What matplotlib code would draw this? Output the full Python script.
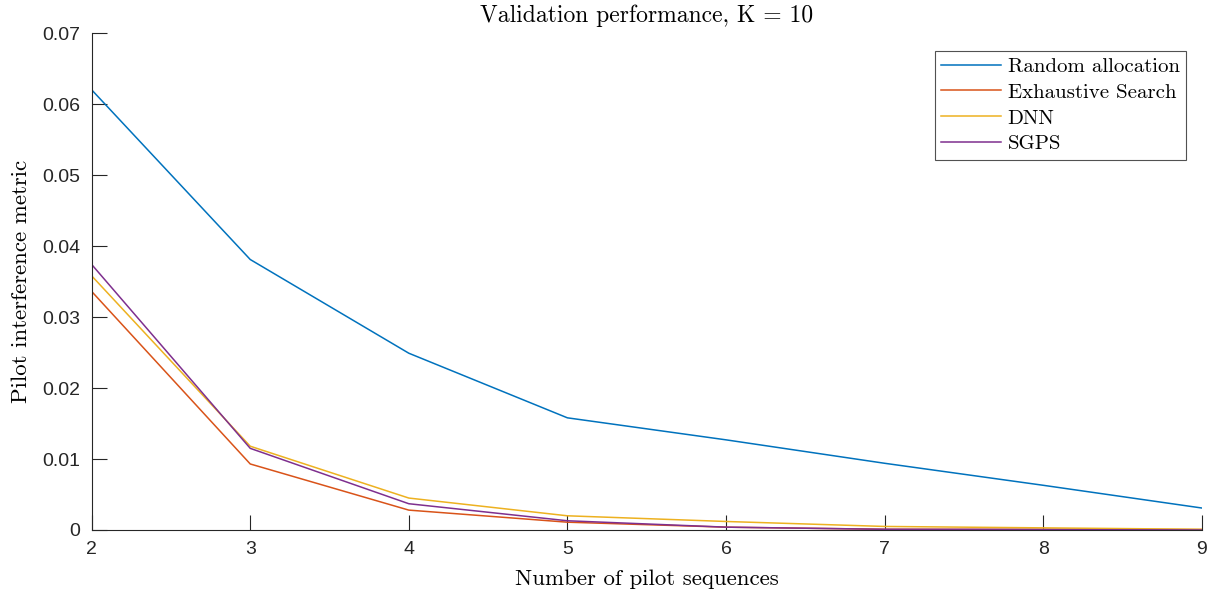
import numpy as np
import matplotlib.pyplot as plt

# pilot sequences vs. interference metric, K = 10
n_pilots = [2, 3, 4, 5, 6, 7, 8, 9]
random_alloc = [0.0620, 0.0381, 0.0249, 0.0158, 0.0127, 0.0094, 0.0063, 0.0031]
exhaustive = [0.0336, 0.0093, 0.0028, 0.0011, 0.0004, 0.0001, 0.0001, 0.00005]
dnn = [0.0358, 0.0118, 0.0045, 0.0020, 0.0012, 0.0005, 0.0003, 0.0001]
sgps = [0.0374, 0.0115, 0.0037, 0.0013, 0.0004, 0.0001, 0.00005, 0.0]

series = [
    ("Random allocation", random_alloc, "#0072BD"),
    ("Exhaustive Search", exhaustive, "#D95319"),
    ("DNN", dnn, "#EDB120"),
    ("SGPS", sgps, "#7E2F8E"),
]

plt.rcParams['mathtext.fontset'] = 'cm'
serif = 'cmr10'

fig = plt.figure(figsize=(12.11, 5.90), dpi=100)
ax = fig.add_axes([0.0757, 0.1017, 0.9166, 0.8423])

for name, vals, col in series:
    ax.plot(n_pilots, vals, color=col, lw=1.1, label=name)

ax.set_xlim(2, 9)
ax.set_ylim(0, 0.07)
ax.set_xticks(n_pilots)
ax.set_yticks(np.arange(0, 0.071, 0.01))
ax.set_yticklabels(["0", "0.01", "0.02", "0.03", "0.04", "0.05", "0.06", "0.07"])

for side in ("top", "right"):
    ax.spines[side].set_visible(False)
for side in ("left", "bottom"):
    ax.spines[side].set_color("#262626")
    ax.spines[side].set_linewidth(0.8)
ax.tick_params(direction="in", length=11, width=0.8, colors="#262626",
               labelsize=14, pad=8)
for lbl in ax.get_xticklabels() + ax.get_yticklabels():
    lbl.set_fontfamily("Liberation Sans")

ax.set_title("Validation performance, K = 10", fontfamily=serif, fontsize=17,
             pad=8)
ax.set_xlabel("Number of pilot sequences", fontfamily=serif, fontsize=16.5,
              labelpad=8)
ax.set_ylabel("Pilot interference metric", fontfamily=serif, fontsize=16.5,
              labelpad=8)

leg = ax.legend(loc="upper right", bbox_to_anchor=(0.9858, 0.9638),
                prop={"family": serif, "size": 15}, frameon=True,
                fancybox=False, handlelength=2.9, handletextpad=0.3,
                labelspacing=0.35, borderpad=0.3, borderaxespad=0)
leg.get_frame().set_edgecolor("#262626")
leg.get_frame().set_linewidth(0.8)

fig.savefig("out.png", dpi=100)
